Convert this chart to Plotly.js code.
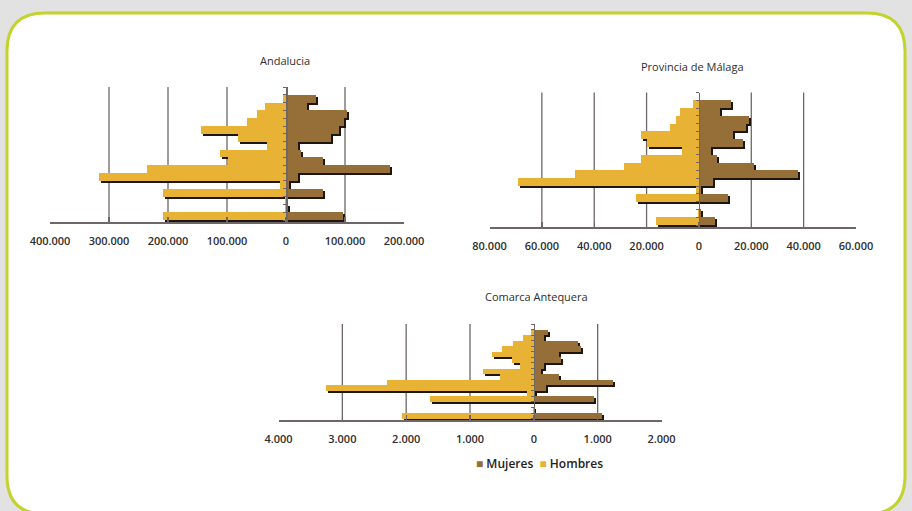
<!DOCTYPE html>
<html><head><meta charset="utf-8">
<script src="https://cdn.plot.ly/plotly-3.0.1.min.js"></script>
<style>html,body{margin:0;padding:0;background:#e4e4e4;}#chart{width:912px;height:511px;}</style>
</head><body><div id="chart"></div>
<script>
// ---- data (rows listed top to bottom) ----
const mujeresAndalucia = [50000, 35000, 104000, 99000, 89000, 77000, 21000, 25000, 63000, 176000, 21000, 5000, 63000, 0, 3000, 96000];
const hombresAndalucia = [-5000, -35000, -50000, -66000, -144000, -82000, -32000, -112000, -99000, -235000, -317000, -10000, -209000, -1000, -2000, -208000];
const mujeresMalaga = [12100, 8100, 19200, 18000, 13100, 17000, 4600, 6900, 21000, 38000, 5400, 800, 11000, 0, 900, 6300];
const hombresMalaga = [-2200, -7200, -8900, -11000, -22000, -19700, -6400, -22000, -28600, -47500, -69000, -1300, -24200, 0, -500, -16500];
const mujeresAntequera = [215, 160, 690, 735, 395, 420, 158, 105, 395, 1235, 190, 26, 945, 0, 10, 1060];
const hombresAntequera = [-40, -170, -330, -500, -658, -342, -220, -790, -526, -2300, -3250, -105, -1630, 0, -10, -2070];

const tickValsAndalucia = [-400000, -300000, -200000, -100000, 0, 100000, 200000];
const tickTextAndalucia = ['400.000', '300.000', '200.000', '100.000', '0', '100.000', '200.000'];
const tickValsMalaga = [-80000, -60000, -40000, -20000, 0, 20000, 40000, 60000];
const tickTextMalaga = ['80.000', '60.000', '40.000', '20.000', '0', '20.000', '40.000', '60.000'];
const tickValsAntequera = [-4000, -3000, -2000, -1000, 0, 1000, 2000];
const tickTextAntequera = ['4.000', '3.000', '2.000', '1.000', '0', '1.000', '2.000'];

const panelTitles = ['Andalucia', 'Provincia de Málaga', 'Comarca Antequera'];
const seriesNames = ['Mujeres', 'Hombres'];

// ---- styling / geometry ----
const W = 912, H = 511;
const colMujeres = '#966e37', colHombres = '#e8b234', colShadow = '#1e160c';
const axisCol = '#6f6767', textCol = '#2e2e2e';
const FONT = 'Open Sans, sans-serif';
const yRange = [-0.75, 16.5];
const panels = [
  {m: mujeresAndalucia, h: hombresAndalucia, tv: tickValsAndalucia, tt: tickTextAndalucia, x0: 50, x1: 404, y0: 87, y1: 222, title: panelTitles[0], tx: 285, ty: 60},
  {m: mujeresMalaga, h: hombresMalaga, tv: tickValsMalaga, tt: tickTextMalaga, x0: 489.5, x1: 856, y0: 92.5, y1: 227, title: panelTitles[1], tx: 692, ty: 66},
  {m: mujeresAntequera, h: hombresAntequera, tv: tickValsAntequera, tt: tickTextAntequera, x0: 278.5, x1: 661.5, y0: 324, y1: 420, title: panelTitles[2], tx: 536, ty: 296}
];

const data = [];
const layout = {
  width: W, height: H,
  margin: {l: 0, r: 0, t: 0, b: 0},
  paper_bgcolor: '#e2e2e2', plot_bgcolor: 'rgba(0,0,0,0)',
  barmode: 'overlay', bargap: 0, showlegend: false,
  font: {family: FONT, color: textCol},
  annotations: [], shapes: []
};
const px = v => v / W, py = v => 1 - v / H;

// rounded frame
const L = 7, T = 13, R = 905, B = 514, r = 38;
layout.shapes.push({
  type: 'path', xref: 'paper', yref: 'paper', layer: 'below',
  path: 'M' + px(L + r) + ',' + py(T) + ' L' + px(R - r) + ',' + py(T) + ' Q' + px(R) + ',' + py(T) + ' ' + px(R) + ',' + py(T + r) +
        ' L' + px(R) + ',' + py(B - r) + ' Q' + px(R) + ',' + py(B) + ' ' + px(R - r) + ',' + py(B) +
        ' L' + px(L + r) + ',' + py(B) + ' Q' + px(L) + ',' + py(B) + ' ' + px(L) + ',' + py(B - r) +
        ' L' + px(L) + ',' + py(T + r) + ' Q' + px(L) + ',' + py(T) + ' ' + px(L + r) + ',' + py(T) + ' Z',
  fillcolor: '#ffffff', line: {color: '#c3d22c', width: 3}
});

const mainBars = [];
panels.forEach((p, i) => {
  const k = i + 1;
  const n = p.m.length;
  const rowsY = p.m.map((_, j) => n - 1 - j);
  const range = [p.tv[0], p.tv[p.tv.length - 1]];
  const dx = 2 * (range[1] - range[0]) / (p.x1 - p.x0);
  const rowPx = (p.y1 - p.y0) / (yRange[1] - yRange[0]);
  const dy = 2 / rowPx;
  const xa = 'x' + k, ya = 'y' + k;
  // drop shadows (drawn first, below the bars)
  [p.m, p.h].forEach(vals => data.push({
    type: 'bar', orientation: 'h', x: vals, y: rowsY, base: dx, width: 1, offset: -0.5 - dy,
    xaxis: xa, yaxis: ya, marker: {color: colShadow, line: {width: 0}}, hoverinfo: 'skip', showlegend: false
  }));
  mainBars.push({type: 'bar', orientation: 'h', name: seriesNames[0], x: p.m, y: rowsY, width: 1,
    xaxis: xa, yaxis: ya, marker: {color: colMujeres, line: {width: 0}}});
  mainBars.push({type: 'bar', orientation: 'h', name: seriesNames[1], x: p.h, y: rowsY, width: 1,
    xaxis: xa, yaxis: ya, marker: {color: colHombres, line: {width: 0}}});

  layout['xaxis' + k] = {
    domain: [px(p.x0), px(p.x1)], range: range, anchor: ya,
    tickvals: p.tv, ticktext: p.tt, ticks: 'inside', ticklen: 5, tickcolor: axisCol, tickwidth: 1.3,
    showline: true, linecolor: axisCol, linewidth: 1.5, showgrid: false, zeroline: false,
    tickfont: {family: FONT, size: 11, color: textCol, weight: 600}, ticklabelstandoff: 8, fixedrange: true
  };
  // vertical grid lines at the interior tick values
  p.tv.slice(1, -1).filter(v => v !== 0).forEach(v => layout.shapes.push({
    type: 'line', xref: xa, yref: ya + ' domain', x0: v, x1: v, y0: 0, y1: 1,
    layer: 'below', line: {color: axisCol, width: 1.3}
  }));
  const zeroPx = p.x0 + (0 - range[0]) / (range[1] - range[0]) * (p.x1 - p.x0);
  const tvY = [];
  for (let t = yRange[0] + 0.25; t <= yRange[1] + 0.001; t += 1) tvY.push(t);
  layout['yaxis' + k] = {
    domain: [py(p.y1), py(p.y0)], range: yRange, anchor: 'free', position: px(zeroPx),
    showline: true, linecolor: axisCol, linewidth: 1.5, ticks: 'outside', ticklen: 3, tickcolor: axisCol,
    tickvals: tvY, showticklabels: false, showgrid: false, zeroline: false, fixedrange: true
  };
  layout.annotations.push({
    text: p.title, x: px(p.tx), y: py(p.ty), xref: 'paper', yref: 'paper', xanchor: 'center', yanchor: 'middle',
    showarrow: false, font: {family: FONT, size: 11, color: textCol}
  });
});
mainBars.forEach(t => data.push(t));

// legend as text
layout.annotations.push({
  text: '<span style="color:' + colMujeres + '">■</span> ' + seriesNames[0] + '  <span style="color:' + colHombres + '">■</span> ' + seriesNames[1],
  x: px(539), y: py(463), xref: 'paper', yref: 'paper', xanchor: 'center', yanchor: 'middle', showarrow: false,
  font: {family: FONT, size: 12, color: '#222', weight: 600}
});

Plotly.newPlot('chart', data, layout, {displayModeBar: false, staticPlot: true});
</script></body></html>
